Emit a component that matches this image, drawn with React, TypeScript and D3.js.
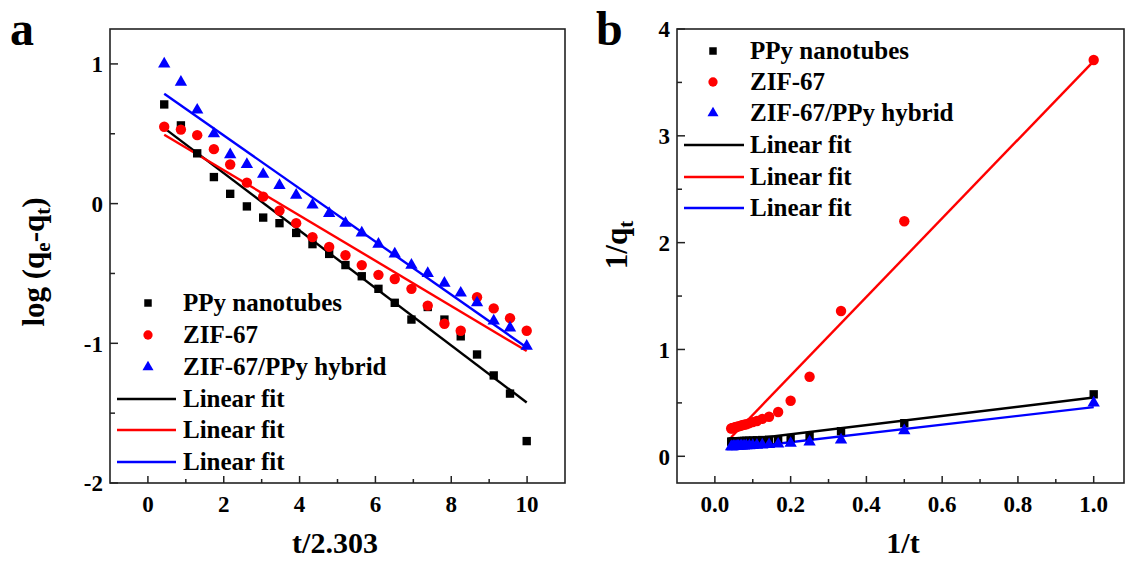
import React, { useRef, useEffect } from "react";
import * as d3 from "d3";

// x values: t/2.303 (panel a) and 1/t (panel b), t = 1..23 min
const tScaled = [0.43, 0.87, 1.3, 1.74, 2.17, 2.61, 3.04, 3.47, 3.91, 4.34, 4.78, 5.21, 5.64, 6.08, 6.51, 6.95, 7.38, 7.82, 8.25, 8.68, 9.12, 9.55, 9.99];
const invT = [1.0, 0.5, 0.333, 0.25, 0.2, 0.167, 0.143, 0.125, 0.111, 0.1, 0.091, 0.083, 0.077, 0.071, 0.067, 0.0625, 0.059, 0.056, 0.053, 0.05, 0.048, 0.045, 0.043];

// panel a: log(qe - qt)
const ppyLog = [0.71, 0.56, 0.36, 0.19, 0.07, -0.02, -0.1, -0.14, -0.21, -0.29, -0.36, -0.44, -0.52, -0.61, -0.71, -0.83, -0.74, -0.83, -0.95, -1.08, -1.23, -1.36, -1.7];
const zifLog = [0.55, 0.53, 0.49, 0.39, 0.28, 0.15, 0.05, -0.05, -0.14, -0.24, -0.31, -0.37, -0.44, -0.51, -0.54, -0.61, -0.73, -0.86, -0.91, -0.67, -0.75, -0.82, -0.91];
const hybLog = [1.0, 0.87, 0.67, 0.5, 0.35, 0.28, 0.21, 0.13, 0.06, -0.01, -0.07, -0.14, -0.21, -0.29, -0.36, -0.44, -0.5, -0.57, -0.64, -0.71, -0.84, -0.89, -1.02];

// panel b: 1/qt
const ppyInv = [0.58, 0.31, 0.235, 0.19, 0.17, 0.16, 0.155, 0.152, 0.15, 0.148, 0.146, 0.145, 0.144, 0.143, 0.142, 0.141, 0.14, 0.14, 0.139, 0.138, 0.138, 0.137, 0.137];
const zifInv = [3.71, 2.2, 1.36, 0.745, 0.52, 0.415, 0.37, 0.35, 0.33, 0.32, 0.31, 0.3, 0.295, 0.29, 0.285, 0.28, 0.278, 0.275, 0.27, 0.268, 0.265, 0.262, 0.26];
const hybInv = [0.5, 0.24, 0.153, 0.134, 0.122, 0.115, 0.11, 0.107, 0.104, 0.102, 0.1, 0.099, 0.098, 0.097, 0.096, 0.095, 0.094, 0.093, 0.092, 0.092, 0.091, 0.09, 0.09];

// linear fits [slope, intercept]
const fitA = [[-0.2055, 0.629], [-0.162, 0.563], [-0.19, 0.868]];
const fitB = [[0.43, 0.12], [3.68, 0.02], [0.41, 0.05]];

const seriesNames = ["PPy nanotubes", "ZIF-67", "ZIF-67/PPy hybrid"];
const seriesColors = ["#000000", "#ff0000", "#0000ff"];
const symbols = [d3.symbolSquare, d3.symbolCircle, d3.symbolTriangle];
const symbolSizes = [70, 85, 66];

const xTicksA = [0, 2, 4, 6, 8, 10];
const yTicksA = [-2, -1, 0, 1];
const xTicksB = [0, 0.2, 0.4, 0.6, 0.8, 1.0];
const yTicksB = [0, 1, 2, 3, 4];

const FONT = "Liberation Serif";

// bold serif text helper
const txt = (sel, size) =>
  sel
    .append("text")
    .attr("font-family", FONT)
    .attr("font-weight", "bold")
    .attr("font-size", size)
    .attr("fill", "#000");

const App = () => {
  const svgRef = useRef();

  useEffect(() => {
    const svg = d3.select(svgRef.current);
    svg.selectAll("*").remove();

    const drawPanel = (opts) => {
      const { left, right, top, bottom, xDomain, yDomain, xs, ys, fits, xMajor, xMinorStep, yMajor, yMinorStep, xFmt, yFmt, legend } = opts;
      const x = d3.scaleLinear().domain(xDomain).range([left, right]);
      const y = d3.scaleLinear().domain(yDomain).range([bottom, top]);
      const g = svg.append("g");

      // frame
      g.append("rect")
        .attr("x", left).attr("y", top)
        .attr("width", right - left).attr("height", bottom - top)
        .attr("fill", "none").attr("stroke", "#222").attr("stroke-width", 1.6);

      // x ticks (inward)
      const xMinor = d3.range(xMajor[0], xMajor[xMajor.length - 1] + 1e-9, xMinorStep);
      xMinor.forEach((v) => {
        const major = xMajor.some((m) => Math.abs(m - v) < 1e-6);
        g.append("line")
          .attr("x1", x(v)).attr("x2", x(v))
          .attr("y1", bottom).attr("y2", bottom - (major ? 7 : 4))
          .attr("stroke", "#222").attr("stroke-width", 1.5);
      });
      xMajor.forEach((v) => {
        txt(g, 23)
          .attr("x", x(v)).attr("y", 512)
          .attr("text-anchor", "middle")
          .text(xFmt(v));
      });

      // y ticks (inward)
      const yMinor = d3.range(yMajor[0], yMajor[yMajor.length - 1] + 1e-9, yMinorStep);
      yMinor.forEach((v) => {
        const major = yMajor.some((m) => Math.abs(m - v) < 1e-6);
        g.append("line")
          .attr("x1", left).attr("x2", left + (major ? 8 : 5))
          .attr("y1", y(v)).attr("y2", y(v))
          .attr("stroke", "#222").attr("stroke-width", 1.5);
      });
      yMajor.forEach((v) => {
        txt(g, 23)
          .attr("x", left - 7).attr("y", y(v))
          .attr("dy", "0.36em")
          .attr("text-anchor", "end")
          .text(yFmt(v));
      });

      // fit lines
      fits.forEach((f, i) => {
        const x0 = d3.min(xs), x1 = d3.max(xs);
        g.append("line")
          .attr("x1", x(x0)).attr("y1", y(f[0] * x0 + f[1]))
          .attr("x2", x(x1)).attr("y2", y(f[0] * x1 + f[1]))
          .attr("stroke", seriesColors[i]).attr("stroke-width", 2.4);
      });

      // scatter points
      ys.forEach((vals, i) => {
        g.append("g")
          .selectAll("path")
          .data(vals)
          .enter()
          .append("path")
          .attr("transform", (d, j) => `translate(${x(xs[j])},${y(d)})`)
          .attr("d", d3.symbol().type(symbols[i]).size(symbolSizes[i]))
          .attr("fill", seriesColors[i]);
      });

      // legend
      const { mx, lineX0, lineX1, tx, rowY } = legend;
      seriesNames.forEach((name, i) => {
        g.append("path")
          .attr("transform", `translate(${mx},${rowY[i]})`)
          .attr("d", d3.symbol().type(symbols[i]).size(symbolSizes[i] * 0.8))
          .attr("fill", seriesColors[i]);
        txt(g, 25)
          .attr("x", tx).attr("y", rowY[i]).attr("dy", "0.33em")
          .text(name);
      });
      seriesColors.forEach((c, i) => {
        const ry = rowY[3 + i];
        g.append("line")
          .attr("x1", lineX0).attr("x2", lineX1)
          .attr("y1", ry).attr("y2", ry)
          .attr("stroke", c).attr("stroke-width", 2.4);
        txt(g, 25)
          .attr("x", tx).attr("y", ry).attr("dy", "0.33em")
          .text("Linear fit");
      });
    };

    drawPanel({
      left: 110, right: 565, top: 29, bottom: 483,
      xDomain: [-1, 11], yDomain: [-2, 1.25],
      xs: tScaled, ys: [ppyLog, zifLog, hybLog], fits: fitA,
      xMajor: xTicksA, xMinorStep: 1, yMajor: yTicksA, yMinorStep: 0.5,
      xFmt: (v) => String(v), yFmt: (v) => String(v),
      legend: { mx: 148, lineX0: 117, lineX1: 176, tx: 183, rowY: [303, 335, 367, 399, 430, 462] },
    });

    drawPanel({
      left: 677, right: 1124, top: 29, bottom: 483,
      xDomain: [-0.1, 1.08], yDomain: [-0.25, 4],
      xs: invT, ys: [ppyInv, zifInv, hybInv], fits: fitB,
      xMajor: xTicksB, xMinorStep: 0.1, yMajor: yTicksB, yMinorStep: 0.5,
      xFmt: d3.format(".1f"), yFmt: (v) => String(v),
      legend: { mx: 713, lineX0: 684, lineX1: 744, tx: 750, rowY: [51, 82, 113, 145, 177, 208] },
    });

    // axis titles
    txt(svg, 30).attr("x", 335).attr("y", 553).attr("text-anchor", "middle").text("t/2.303");
    txt(svg, 30).attr("x", 903).attr("y", 553).attr("text-anchor", "middle").text("1/t");

    const yt = txt(svg, 31)
      .attr("transform", "translate(44,262) rotate(-90)")
      .attr("text-anchor", "middle");
    yt.append("tspan").text("log (q");
    yt.append("tspan").attr("dy", 6).attr("font-size", 21).text("e");
    yt.append("tspan").attr("dy", -6).text("-q");
    yt.append("tspan").attr("dy", 6).attr("font-size", 21).text("t");
    yt.append("tspan").attr("dy", -6).text(")");

    const yb = txt(svg, 31)
      .attr("transform", "translate(627,245) rotate(-90)")
      .attr("text-anchor", "middle");
    yb.append("tspan").text("1/q");
    yb.append("tspan").attr("dy", 6).attr("font-size", 21).text("t");

    // panel letters
    txt(svg, 48).attr("x", 10).attr("y", 45).text("a");
    txt(svg, 48).attr("x", 596).attr("y", 45).text("b");
  }, []);

  return (
    <svg
      ref={svgRef}
      width={1126}
      height={562}
      style={{ position: "absolute", left: 0, top: 0, background: "#fff" }}
    ></svg>
  );
};

export default App;
